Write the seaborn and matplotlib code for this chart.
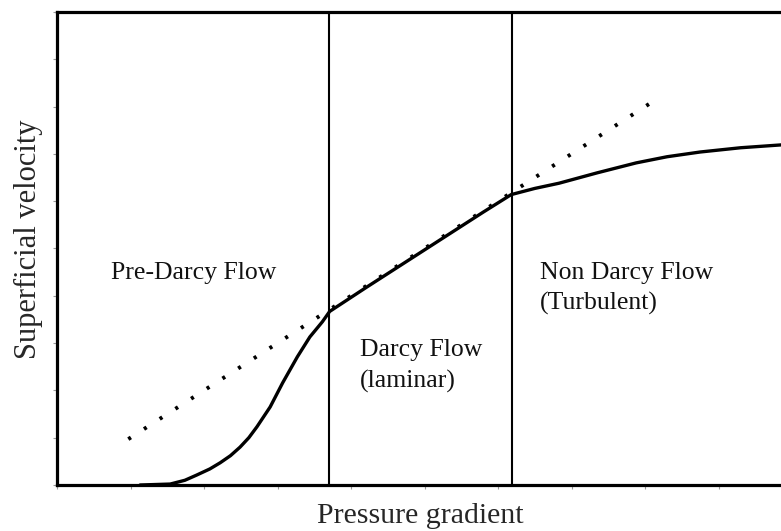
import numpy as np
import pandas as pd
import matplotlib
matplotlib.use("Agg")
import matplotlib.pyplot as plt
import seaborn as sns

# flow curve (pressure gradient vs superficial velocity)
flow_x = [1.13, 1.54, 1.74, 1.90, 2.08, 2.22, 2.36, 2.49, 2.61, 2.72, 2.90, 3.07,
          3.27, 3.44, 3.61, 3.71, 4.2, 4.75, 5.3, 5.8, 6.18, 6.5, 6.83, 7.35,
          7.88, 8.3, 8.75, 9.3, 9.85]
flow_y = [0.0, 0.02, 0.10, 0.21, 0.34, 0.47, 0.62, 0.80, 1.00, 1.23, 1.65, 2.16,
          2.71, 3.13, 3.45, 3.67, 4.17, 4.72, 5.27, 5.77, 6.14, 6.27, 6.38, 6.60,
          6.81, 6.94, 7.04, 7.13, 7.19]

# Darcy law extrapolation (dotted)
darcy_x = [0.97, 8.10]
darcy_y = [0.97, 8.10]

# regime boundaries
bounds = [3.70, 6.19]

regions = ["Pre-Darcy Flow", "Darcy Flow", "(laminar)", "Non Darcy Flow", "(Turbulent)"]
region_x = [0.73, 4.12, 4.12, 6.57, 6.57]
region_y = [4.35, 2.72, 2.07, 4.35, 3.71]


def main():
    sns.set_style("white")
    plt.rcParams["font.family"] = ["Liberation Serif", "DejaVu Serif"]

    fig = plt.figure(figsize=(7.81, 5.31), dpi=100)
    ax = fig.add_axes([57 / 781, 1 - 485 / 531, 1 - 57 / 781, (485 - 12) / 531])

    flow = pd.DataFrame({"x": flow_x, "y": flow_y})
    sns.lineplot(data=flow, x="x", y="y", ax=ax, color="black", lw=2.4,
                 sort=False, estimator=None, solid_joinstyle="round")
    line = pd.DataFrame({"x": darcy_x, "y": darcy_y})
    sns.lineplot(data=line, x="x", y="y", ax=ax, color="black", lw=2.8,
                 linestyle=(0, (0.8, 4.0)), estimator=None)
    for b in bounds:
        ax.axvline(b, color="black", lw=1.5)

    for t, x, y in zip(regions, region_x, region_y):
        ax.text(x, y, t, fontsize=18.5, va="baseline", ha="left", color="#111111")

    ax.set_xlim(0, 9.85)
    ax.set_ylim(0, 10)
    ax.set_xticks(range(0, 10))
    ax.set_yticks(range(0, 11))
    ax.set_xticklabels([])
    ax.set_yticklabels([])
    ax.tick_params(axis="both", direction="out", length=3, width=0.8,
                   color="#999999", bottom=True, left=True)

    for s in ["left", "bottom", "top"]:
        ax.spines[s].set_color("black")
        ax.spines[s].set_linewidth(2.3)
    ax.spines["right"].set_visible(False)

    ax.set_xlabel("Pressure gradient", fontsize=21.5)
    ax.set_ylabel("Superficial velocity", fontsize=22)
    ax.xaxis.set_label_coords(0.502, -0.038)
    ax.yaxis.set_label_coords(-0.02, 0.52)

    fig.savefig("out.png", dpi=100)


if __name__ == "__main__":
    main()
